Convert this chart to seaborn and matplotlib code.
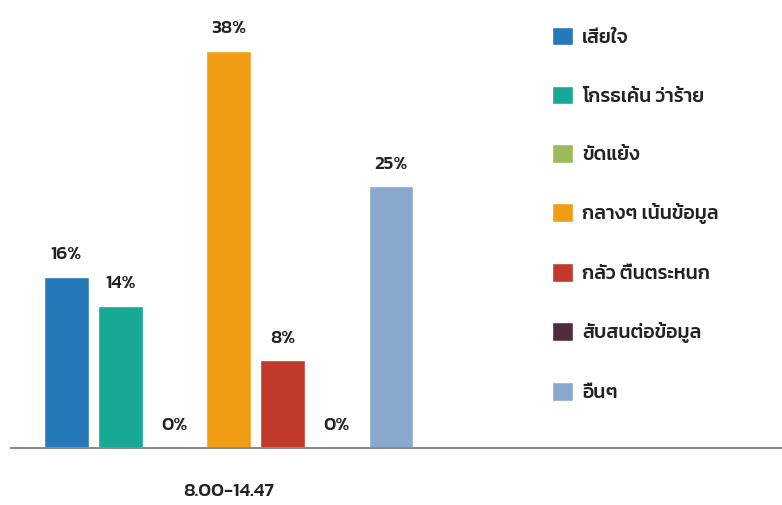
import matplotlib
matplotlib.use("Agg")
import matplotlib.pyplot as plt
import seaborn as sns
import pandas as pd

categories = ["8.00-14.47"]
emotions = ["เสียใจ", "โกรธเค้น ว่าร้าย", "ขัดแย้ง", "กลางๆ เน้นข้อมูล",
            "กลัว ตื่นตระหนก", "สับสนต่อข้อมูล", "อื่นๆ"]
values = [16.4, 13.6, 0, 38.1, 8.4, 0, 25.1]
colors = ["#2579B8", "#17A996", "#9BBB59", "#F09C15", "#C0392B", "#532B3F", "#89A8CE"]

df = pd.DataFrame({"cat": categories * len(emotions), "emotion": emotions, "value": values})

sns.set_theme(style="white")
plt.rcParams["font.family"] = ["Kanit", "DejaVu Sans"]

fig = plt.figure(figsize=(7.82, 5.05), dpi=100)
ax = fig.add_axes([0.014, 1 - 448 / 505, 0.986, 437.6 / 505])

sns.barplot(data=df, x="cat", y="value", hue="emotion", hue_order=emotions,
            palette=colors, gap=0.18, width=0.8, ax=ax, legend=True, saturation=1)

for c in ax.containers:
    ax.bar_label(c, labels=[f"{v:.0f}%" for v in c.datavalues], padding=10,
                 fontsize=13.5, fontweight="medium", color="#222222")

ax.set_ylim(0, 42)
ax.set_xlim(-0.46, 1.17)
ax.set_xlabel("")
ax.set_ylabel("")
ax.set_yticks([])
ax.tick_params(axis="x", length=0, pad=25, labelsize=14, labelcolor="#222222")
for lbl in ax.get_xticklabels():
    lbl.set_fontweight("medium")
for s in ["top", "right", "left"]:
    ax.spines[s].set_visible(False)
ax.spines["bottom"].set_color("#8c8c8c")
ax.spines["bottom"].set_linewidth(1.5)

handles, labels = ax.get_legend_handles_labels()
ax.get_legend().remove()
fs = 14
fig.legend(handles, labels, loc="upper left", bbox_to_anchor=(542 / 782, 1 - 17 / 505),
           frameon=False, handlelength=1.1, handleheight=1.1,
           labelspacing=2.0, handletextpad=0.45, borderpad=0, labelcolor="#222222",
           prop={"weight": "medium", "size": fs})

fig.savefig("out.png", dpi=100)
